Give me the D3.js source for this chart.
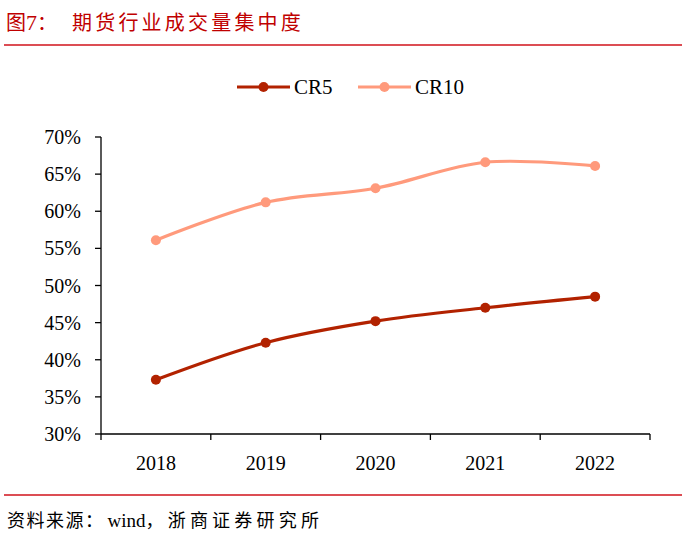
<!DOCTYPE html>
<html>
<head>
<meta charset="utf-8">
<script src="https://cdn.jsdelivr.net/npm/d3@7"></script>
<style>
body { margin: 0; background: #fff; }
svg { display: block; }
</style>
</head>
<body>
<svg width="700" height="541"></svg>
<script>
const years = ["2018", "2019", "2020", "2021", "2022"];
const cr5 = [37.3, 42.3, 45.2, 47.0, 48.5];
const cr10 = [56.1, 61.2, 63.1, 66.6, 66.1];
const yTicks = [30, 35, 40, 45, 50, 55, 60, 65, 70];

const svg = d3.select("svg");
const serif = "'Liberation Serif', 'Times New Roman', serif";
const cjk = "'Noto Sans CJK SC', sans-serif";

// title
const title = svg.append("text")
    .attr("x", 6).attr("y", 30)
    .attr("fill", "#C00000")
    .style("font-family", cjk)
    .style("font-size", "20px");
title.append("tspan").text("图");
title.append("tspan").style("font-family", serif).style("font-size", "22px").text("7");
title.append("tspan").text("：");
svg.append("text")
    .attr("x", 72).attr("y", 30)
    .attr("fill", "#C00000")
    .style("font-family", cjk)
    .style("font-size", "20px")
    .style("letter-spacing", "3.2px")
    .text("期货行业成交量集中度");

svg.append("line")
    .attr("x1", 4).attr("x2", 682).attr("y1", 45).attr("y2", 45)
    .attr("stroke", "#D0121B").attr("stroke-width", 1.5);

svg.append("line")
    .attr("x1", 4).attr("x2", 682).attr("y1", 495).attr("y2", 495)
    .attr("stroke", "#D0121B").attr("stroke-width", 1.5);

// source
const src = svg.append("text")
    .attr("x", 7).attr("y", 527)
    .attr("fill", "#000")
    .style("font-family", cjk)
    .style("font-size", "18px");
src.append("tspan").style("letter-spacing", "1.5px").text("资料来源：");
src.append("tspan").attr("dx", 3).style("font-family", serif).style("font-size", "19px").text("wind");
src.append("tspan").style("letter-spacing", "4.2px").text("，浙商证券研究所");

const x = d3.scaleBand().domain(years).range([101, 650]);
const y = d3.scaleLinear().domain([30, 70]).range([434, 137]);

const xAxis = svg.append("g")
    .attr("transform", "translate(0,434)");
xAxis.append("line")
    .attr("x1", 101).attr("x2", 650)
    .attr("stroke", "#000").attr("stroke-width", 1.3);
xAxis.selectAll(".tk")
    .data(d3.range(years.length + 1))
    .enter().append("line")
    .attr("x1", i => 101 + i * x.bandwidth())
    .attr("x2", i => 101 + i * x.bandwidth())
    .attr("y1", 0).attr("y2", 6)
    .attr("stroke", "#000").attr("stroke-width", 1.3);
xAxis.selectAll(".lbl")
    .data(years)
    .enter().append("text")
    .attr("x", d => x(d) + x.bandwidth() / 2)
    .attr("y", 36)
    .attr("text-anchor", "middle")
    .style("font-family", serif)
    .style("font-size", "20px")
    .text(d => d);

const yAxis = svg.append("g");
yAxis.append("line")
    .attr("x1", 101).attr("x2", 101)
    .attr("y1", y(70)).attr("y2", y(30))
    .attr("stroke", "#000").attr("stroke-width", 1.3);
yAxis.selectAll(".tk")
    .data(yTicks)
    .enter().append("line")
    .attr("x1", 95).attr("x2", 101)
    .attr("y1", d => y(d)).attr("y2", d => y(d))
    .attr("stroke", "#000").attr("stroke-width", 1.3);
yAxis.selectAll(".lbl")
    .data(yTicks)
    .enter().append("text")
    .attr("x", 81)
    .attr("y", d => y(d) + 7)
    .attr("text-anchor", "end")
    .style("font-family", serif)
    .style("font-size", "20px")
    .text(d => d + "%");

const series = [
    { name: "CR5", values: cr5, color: "#B22200" },
    { name: "CR10", values: cr10, color: "#FF9A7C" }
];

const line = d3.line()
    .x((d, i) => x(years[i]) + x.bandwidth() / 2)
    .y(d => y(d))
    .curve(d3.curveCatmullRom.alpha(0.5));

series.forEach(s => {
    svg.append("path")
        .datum(s.values)
        .attr("d", line)
        .attr("fill", "none")
        .attr("stroke", s.color)
        .attr("stroke-width", 3.2);
    svg.selectAll(".pt-" + s.name)
        .data(s.values)
        .enter().append("circle")
        .attr("cx", (d, i) => x(years[i]) + x.bandwidth() / 2)
        .attr("cy", d => y(d))
        .attr("r", 5)
        .attr("fill", s.color);
});

// legend
const legend = [
    { name: "CR5", color: "#B22200", x0: 237 },
    { name: "CR10", color: "#FF9A7C", x0: 358 }
];
legend.forEach(l => {
    svg.append("line")
        .attr("x1", l.x0).attr("x2", l.x0 + 53)
        .attr("y1", 87).attr("y2", 87)
        .attr("stroke", l.color).attr("stroke-width", 3.2);
    svg.append("circle")
        .attr("cx", l.x0 + 26.5).attr("cy", 87).attr("r", 5)
        .attr("fill", l.color);
    svg.append("text")
        .attr("x", l.x0 + 57).attr("y", 94)
        .style("font-family", serif)
        .style("font-size", "21px")
        .text(l.name);
});
</script>
</body>
</html>
